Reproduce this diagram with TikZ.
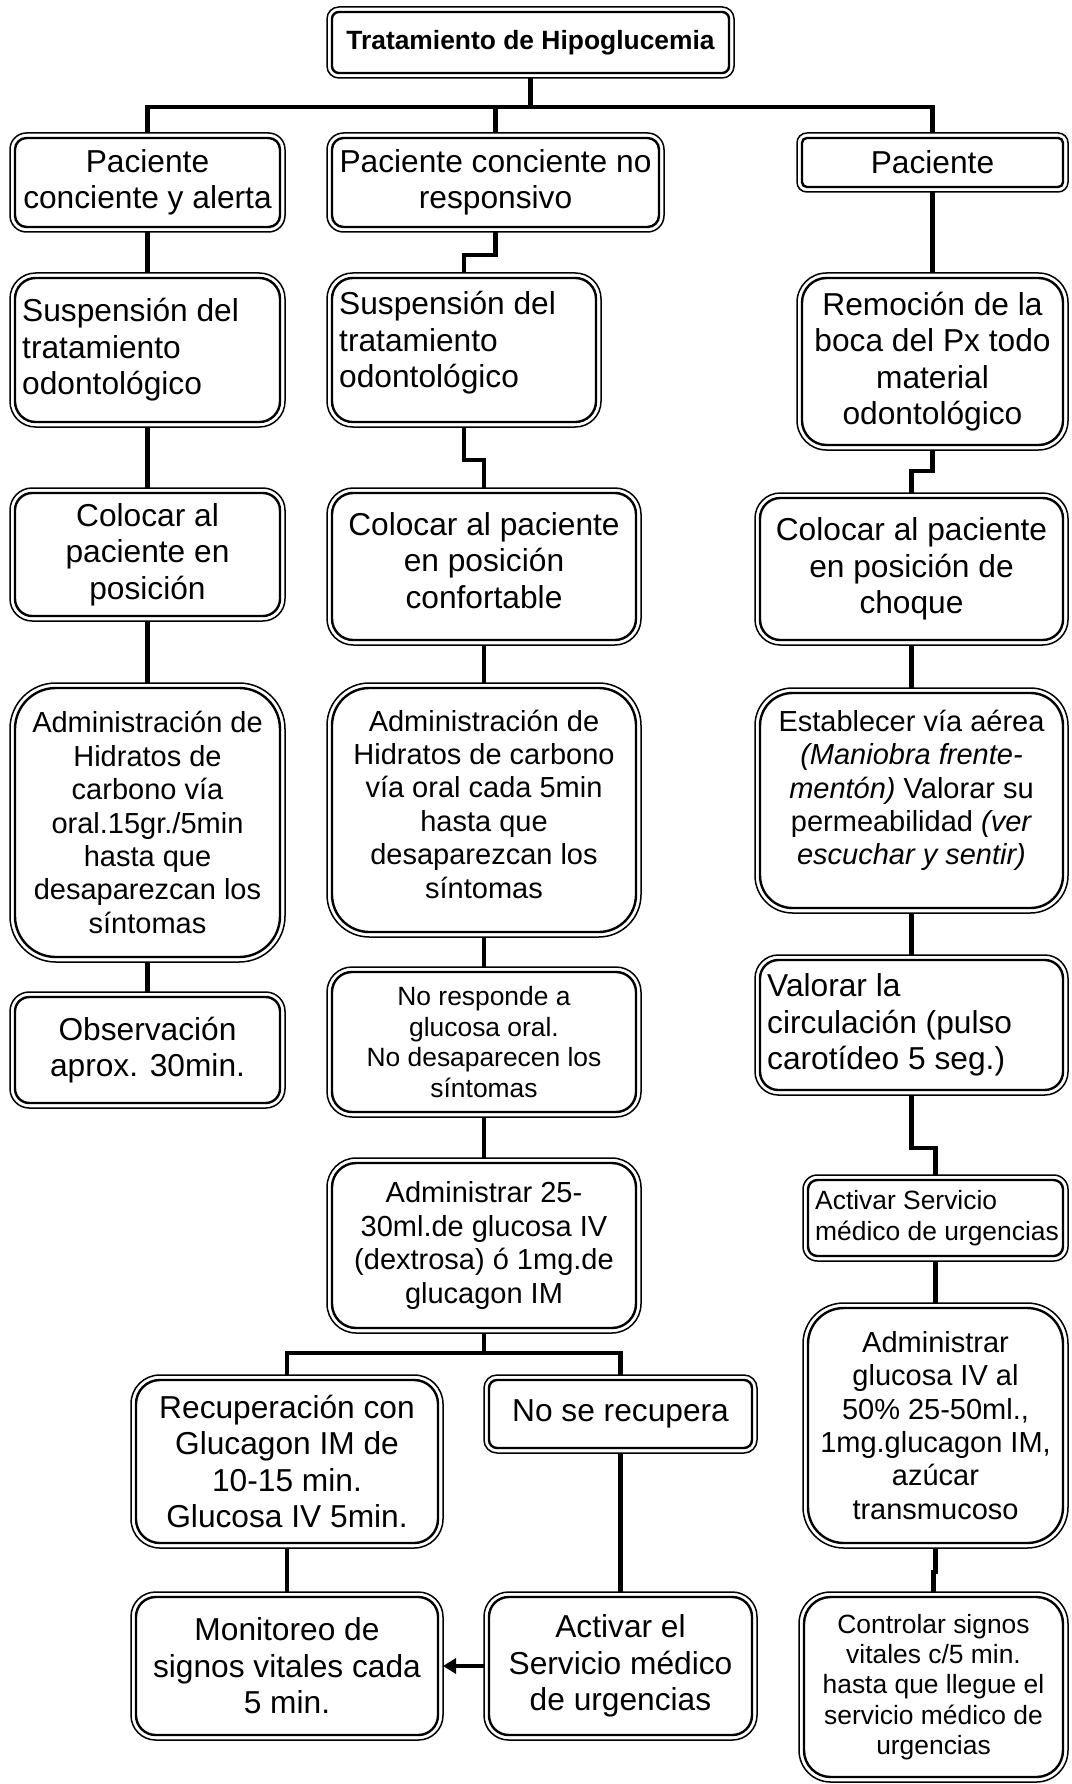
\documentclass[tikz,border=0pt]{standalone}
\usepackage{fontspec}
\setmainfont{Liberation Sans}
\usetikzlibrary{arrows.meta,calc}

% font sizes used in the chart
\newcommand\fL{\fontsize{31.7pt}{36.5pt}\selectfont}
\newcommand\fM{\fontsize{29pt}{33.4pt}\selectfont}
\newcommand\fS{\fontsize{26.4pt}{30.4pt}\selectfont}

\tikzset{
  boxshape/.style={draw, line width=2.4pt, outer sep=5pt, inner sep=0pt, fill=white},
  boxrim/.style={draw, line width=1.5pt},
  txtT/.style={font=\fS\bfseries, inner sep=0pt},
  txtL/.style={font=\fL, inner sep=0pt},
  txtM/.style={font=\fM, inner sep=0pt},
  txtS/.style={font=\fS, inner sep=0pt},
  conn/.style={line width=4.6pt, line join=miter},
}

% double-lined rounded box: name, x1, y1, x2, y2 (outer line)
\newcommand\dshape[5]{%
  \pgfmathsetmacro\dbri{min(#4-#2,#5-#3)/6-5}%
  \pgfmathsetmacro\dbro{\dbri+5}%
  \node[boxshape, minimum width={(#4-#2-10)*1pt}, minimum height={(#5-#3-10)*1pt},
        rounded corners=\dbri pt] (#1) at ({(#2+#4)/2},{(#3+#5)/2}) {};
  \draw[boxrim, rounded corners=\dbro pt] (#1.north west) rectangle (#1.south east);
}
% box with centred text: name, x1, y1, x2, y2, text style, lift, text
\newcommand\cbox[8]{%
  \dshape{#1}{#2}{#3}{#4}{#5}%
  \node[#6, align=center] (#1t) at ([yshift=#7pt]#1.center) {#8};
}
% box with left-aligned text
\newcommand\lbox[8]{%
  \dshape{#1}{#2}{#3}{#4}{#5}%
  \node[#6, align=left, anchor=west] (#1t) at ([xshift=12pt,yshift=#7pt]#1.west) {#8};
}

\begin{document}
\begin{tikzpicture}[x=1pt,y=-1pt]
\useasboundingbox (0,0) rectangle (1071,1784);

% levels of the horizontal runs and jogs
\coordinate (ybar) at (0,107);
\coordinate (yb12) at (0,255);
\coordinate (yb23) at (0,460);
\coordinate (yc23) at (0,471);
\coordinate (yc56) at (0,1148);
\coordinate (yc78) at (0,1572);
\coordinate (ysplit) at (0,1353);

% title
\cbox{T}{327}{7}{734}{78}{txtT}{0}{Tratamiento de Hipoglucemia}

% first column
\cbox{A1}{10}{133}{285}{232}{txtL}{0}{Paciente\\conciente y alerta}
\lbox{A2}{10}{273}{285}{427}{txtL}{0}{Suspensión del\\tratamiento\\odontológico}
\cbox{A3}{10}{488}{285}{621}{txtL}{0}{Colocar al\\paciente en\\posición}
\cbox{A4}{10}{683}{285}{962}{txtM}{0}{Administración de\\Hidratos de\\carbono vía\\oral.15gr./5min\\hasta que\\desaparezcan los\\síntomas}
\cbox{A5}{10}{992}{285}{1108}{txtL}{0}{Observación\\aprox. 30min.}

% second column
\cbox{B1}{327}{133}{664}{232}{txtL}{0}{Paciente conciente no\\responsivo}
\lbox{B2}{327}{273}{601}{427}{txtL}{7}{Suspensión del\\tratamiento\\odontológico}
\cbox{B3}{327}{488}{641}{645}{txtL}{6}{Colocar al paciente\\en posición\\confortable}
\cbox{B4}{327}{683}{641}{937}{txtM}{6}{Administración de\\Hidratos de carbono\\vía oral cada 5min\\hasta que\\desaparezcan los\\síntomas}
\cbox{B5}{327}{967}{641}{1117}{txtS}{0}{No responde a\\glucosa oral.\\No desaparecen los\\síntomas}
\cbox{B6}{327}{1158}{641}{1333}{txtM}{0}{Administrar 25-\\30ml.de glucosa IV\\(dextrosa) ó 1mg.de\\glucagon IM}
\cbox{D1}{131}{1375}{443}{1548}{txtL}{0}{Recuperación con\\Glucagon IM de\\10-15 min.\\Glucosa IV 5min.}
\cbox{E1}{484}{1375}{757}{1453}{txtL}{0}{No se recupera}
\cbox{D2}{131}{1592}{443}{1740}{txtL}{0}{Monitoreo de\\signos vitales cada\\5 min.}
\cbox{E2}{484}{1592}{757}{1740}{txtL}{0}{Activar el\\Servicio médico\\de urgencias}

% third column
\cbox{C1}{797}{133}{1068}{192}{txtL}{0}{Paciente}
\cbox{C2}{797}{273}{1068}{450}{txtL}{0}{Remoción de la\\boca del Px todo\\material\\odontológico}
\cbox{C3}{755}{493}{1068}{645}{txtL}{0}{Colocar al paciente\\en posición de\\choque}
\cbox{C4}{755}{688}{1068}{913}{txtM}{10}{Establecer vía aérea\\\textit{(Maniobra frente-}\\\textit{mentón)} Valorar su\\permeabilidad \textit{(ver}\\\textit{escuchar y sentir)}}
\lbox{C5}{755}{955}{1068}{1095}{txtL}{0}{Valorar la\\circulación (pulso\\carotídeo 5 seg.)}
\lbox{C6}{803}{1175}{1068}{1261}{txtS}{0}{Activar Servicio\\médico de urgencias}
\cbox{C7}{803}{1303}{1068}{1548}{txtM}{0}{Administrar\\glucosa IV al\\50\% 25-50ml.,\\1mg.glucagon IM,\\azúcar\\transmucoso}
\cbox{C8}{799}{1592}{1068}{1782}{txtS}{0}{Controlar signos\\vitales c/5 min.\\hasta que llegue el\\servicio médico de\\urgencias}

% connectors from the title
\draw[conn] (T.south) -- (T.south |- ybar);
\draw[conn] (A1.north) |- (C1.north |- ybar) -- (C1.north);
\draw[conn] (B1.north) -- (B1.north |- ybar);

% first column
\draw[conn] (A1.south) -- (A2.north);
\draw[conn] (A2.south) -- (A3.north);
\draw[conn] (A3.south) -- (A4.north);
\draw[conn] (A4.south) -- (A5.north);

% second column
\draw[conn] (B1.south) -- (B1.south |- yb12) -| (B2.north);
\draw[conn] (B2.south) -- (B2.south |- yb23) -| (B3.north);
\draw[conn] (B3.south) -- (B4.north);
\draw[conn] (B4.south) -- (B5.north);
\draw[conn] (B5.south) -- (B6.north);
\draw[conn] (B6.south) -- (B6.south |- ysplit);
\draw[conn] (D1.north) |- (E1.north |- ysplit) -- (E1.north);
\draw[conn] (D1.south) -- (D2.north);
\draw[conn] (E1.south) -- (E2.north);
\draw[line width=4pt, -{Triangle[length=13pt,width=15pt]}] (E2.west) -- (D2.east);

% third column
\draw[conn] (C1.south) -- (C2.north);
\draw[conn] (C2.south) -- (C2.south |- yc23) -| (C3.north);
\draw[conn] (C3.south) -- (C4.north);
\draw[conn] (C4.south) -- (C5.north);
\draw[conn] (C5.south) -- (C5.south |- yc56) -| (C6.north);
\draw[conn] (C6.south) -- (C7.north);
\draw[conn] (C7.south) -- (C7.south |- yc78) -| (C8.north);
\end{tikzpicture}
\end{document}
